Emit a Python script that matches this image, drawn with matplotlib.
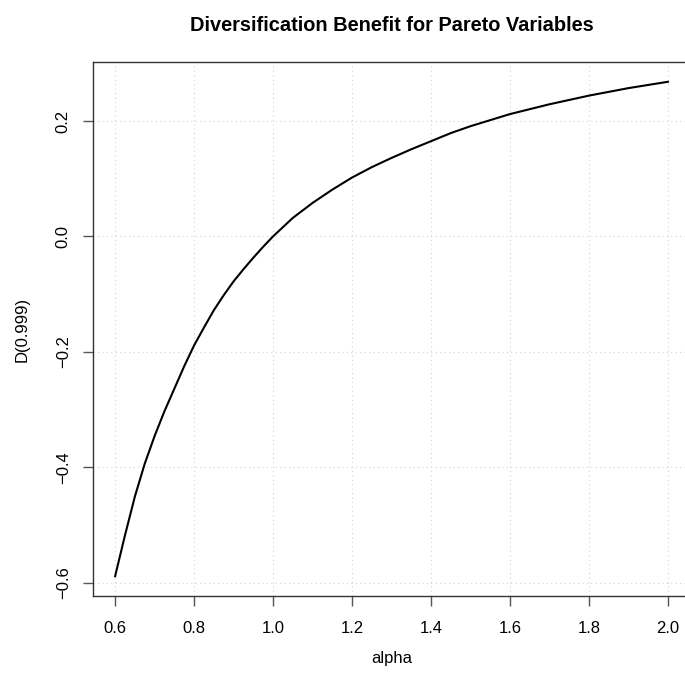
import matplotlib
matplotlib.use("Agg")
import matplotlib.pyplot as plt

# values
alpha = [0.6, 0.625, 0.65, 0.675, 0.7, 0.725, 0.75, 0.775, 0.8, 0.825,
         0.85, 0.875, 0.9, 0.925, 0.95, 0.975, 1.0, 1.05, 1.1, 1.15,
         1.2, 1.25, 1.3, 1.35, 1.4, 1.45, 1.5, 1.6, 1.7, 1.8, 1.9, 2.0]
d999 = [-0.589, -0.518, -0.451, -0.394, -0.346, -0.303, -0.264, -0.225, -0.189, -0.158,
        -0.128, -0.102, -0.078, -0.057, -0.037, -0.018, 0.0, 0.032, 0.058, 0.081,
        0.102, 0.120, 0.136, 0.151, 0.165, 0.179, 0.191, 0.212, 0.229, 0.244, 0.257, 0.268]

xticks = [0.6, 0.8, 1.0, 1.2, 1.4, 1.6, 1.8, 2.0]
yticks = [-0.6, -0.4, -0.2, 0.0, 0.2]

plt.rcParams['font.family'] = ['Liberation Sans', 'DejaVu Sans']

fig = plt.figure(figsize=(6.85, 6.81), dpi=100)
ax = fig.add_axes([93 / 685, 1 - 596 / 681, 597 / 685, 534 / 681])

ax.plot(alpha, d999, color='black', linewidth=1.5)

# R-style 4% axis padding
xpad = (max(alpha) - min(alpha)) * 0.04
ypad = (max(d999) - min(d999)) * 0.04
ax.set_xlim(min(alpha) - xpad, max(alpha) + xpad)
ax.set_ylim(min(d999) - ypad, max(d999) + ypad)

ax.set_xticks(xticks)
ax.set_xticklabels([f'{v:.1f}' for v in xticks])
ax.set_yticks(yticks)
ax.set_yticklabels([f'{v:.1f}'.replace('-', '\u2212') for v in yticks],
                   rotation=90, va='center')
ax.tick_params(axis='both', length=7, width=1, color='#555555', labelsize=12)
ax.tick_params(axis='x', pad=11)
ax.tick_params(axis='y', pad=9)

ax.grid(True, color='lightgray', linestyle=(0, (1, 3)), linewidth=0.8)
for s in ax.spines.values():
    s.set_color('#333333')
    s.set_linewidth(1)

ax.set_title('Diversification Benefit for Pareto Variables',
             fontsize=14.4, fontweight='bold', pad=22)
ax.set_xlabel('alpha', fontsize=12, labelpad=11)
ax.set_ylabel('D(0.999)', fontsize=12, labelpad=19)

fig.savefig('out.png', dpi=100)
